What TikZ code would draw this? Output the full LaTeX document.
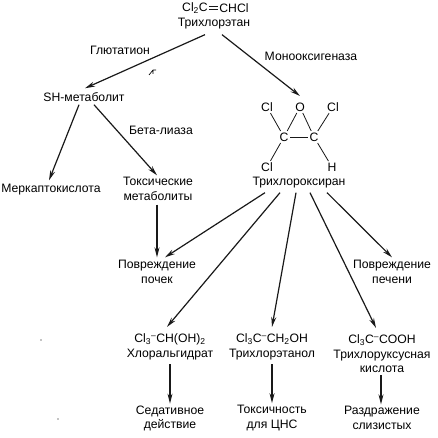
\documentclass[tikz,border=0pt]{standalone}
\usepackage{fontspec}
\setmainfont{Liberation Sans}
\usepackage{tikz}
\usetikzlibrary{arrows.meta,calc,positioning}
\tikzset{
  arr/.style={-{Stealth[length=10pt,width=5pt]},line width=1.2pt,black!90},
  bond/.style={line width=0.8pt,black!90},
  lbl/.style={align=center,inner sep=1pt},
  atom/.style={inner sep=1.5pt}
}
\begin{document}
\begin{tikzpicture}[x=1pt,y=-1pt,every node/.style={font=\fontsize{12.2}{14.4}\selectfont}]
\useasboundingbox (0,0) rectangle (437,438);
% top compound
\node[lbl] (clc) at (195,8) {Cl\textsubscript{2}C};
\node[lbl] (chcl) at (234,8) {CHCl};
\node[lbl] (tce) at (214,24) {Трихлорэтан};
\draw[bond] ([shift={(0,-1.3)}]clc.east) -- ([shift={(0,-1.3)}]chcl.west);
\draw[bond] ([shift={(0,1.3)}]clc.east) -- ([shift={(0,1.3)}]chcl.west);
% left branch
\node[lbl] (glu) at (120,50) {Глютатион};
\node[lbl] (sh) at (84,97) {SH-метаболит};
\node[lbl] (beta) at (161,130) {Бета-лиаза};
\node[lbl] (merc) at (51,190) {Меркаптокислота};
\node[lbl] (tox) at (158,189) {Токсические\\метаболиты};
\node[lbl] (kid) at (157,272) {Повреждение\\почек};
% epoxide
\node[lbl] (mono) at (311,56) {Монооксигеназа};
\node[atom] (o) at (300,107) {O};
\node[atom] (cla) at (267,107) {Cl};
\node[atom] (clb) at (333,107) {Cl};
\node[atom] (ca) at (284,137) {C};
\node[atom] (cb) at (314,137) {C};
\node[atom] (clc2) at (267,167) {Cl};
\node[atom] (h) at (332,167) {H};
\node[lbl] (tco) at (299,183) {Трихлороксиран};
\draw[bond] (ca) -- (cb);
\draw[bond] (ca) -- (o);
\draw[bond] (cb) -- (o);
\draw[bond] (ca) -- (cla);
\draw[bond] (ca) -- (clc2);
\draw[bond] (cb) -- (clb);
\draw[bond] (cb) -- (h);
% products
\node[lbl] (liv) at (392,272) {Повреждение\\печени};
\node[lbl] (chl) at (170,347) {Cl\textsubscript{3}\textsuperscript{--}CH(OH)\textsubscript{2}\\Хлоральгидрат};
\node[lbl] (tet) at (272,347) {Cl\textsubscript{3}C\textsuperscript{--}CH\textsubscript{2}OH\\Трихлорэтанол};
\node[lbl] (tca) at (382,354) {Cl\textsubscript{3}C\textsuperscript{--}COOH\\Трихлоруксусная\\кислота};
\node[lbl] (sed) at (170,418.5) {Седативное\\действие};
\node[lbl] (cns) at (272,418) {Токсичность\\для ЦНС};
\node[lbl] (irr) at (382,418) {Раздражение\\слизистых};
% arrows
\draw[arr] ([shift={(-9,4)}]tce.south) -- ([shift={(1,-3)}]sh.north);
\draw[arr] ([shift={(8,4)}]tce.south) -- ([shift={(0,-5)}]o.north);
\draw[arr] ([shift={(-5,2)}]sh.south) -- ([shift={(-2,-3)}]merc.north);
\draw[arr] ([shift={(10,2)}]sh.south) -- ([shift={(-1,-1)}]tox.north);
\draw[arr] ([shift={(-1,3)}]tox.south) -- ([shift={(0,-2)}]kid.north);
\draw[arr] ([shift={(-34,3)}]tco.south) -- ([shift={(8,-2)}]kid.north);
\draw[arr] ([shift={(-19,3)}]tco.south) -- ([shift={(-3,-6)}]chl.north);
\draw[arr] ([shift={(-3,3)}]tco.south) -- ([shift={(0,-6)}]tet.north);
\draw[arr] ([shift={(11,3)}]tco.south) -- ([shift={(-6,-6)}]tca.north);
\draw[arr] ([shift={(28,3)}]tco.south) -- ([shift={(0,-2)}]liv.north);
\draw[arr] ([shift={(0,3)}]chl.south) -- ([shift={(0,-1)}]sed.north);
\draw[arr] ([shift={(0,3)}]tet.south) -- ([shift={(0,-1)}]cns.north);
\draw[arr] ([shift={(-1,1)}]tca.south) -- ([shift={(-1,-1)}]irr.north);
% specks of the scan
\draw[line width=0.7pt] (149,75) -- (153,70) -- (156,70) (153,70) -- (153,74);
\fill (41,340) circle (0.6);
\fill (58,419) circle (0.7);
\end{tikzpicture}
\end{document}
